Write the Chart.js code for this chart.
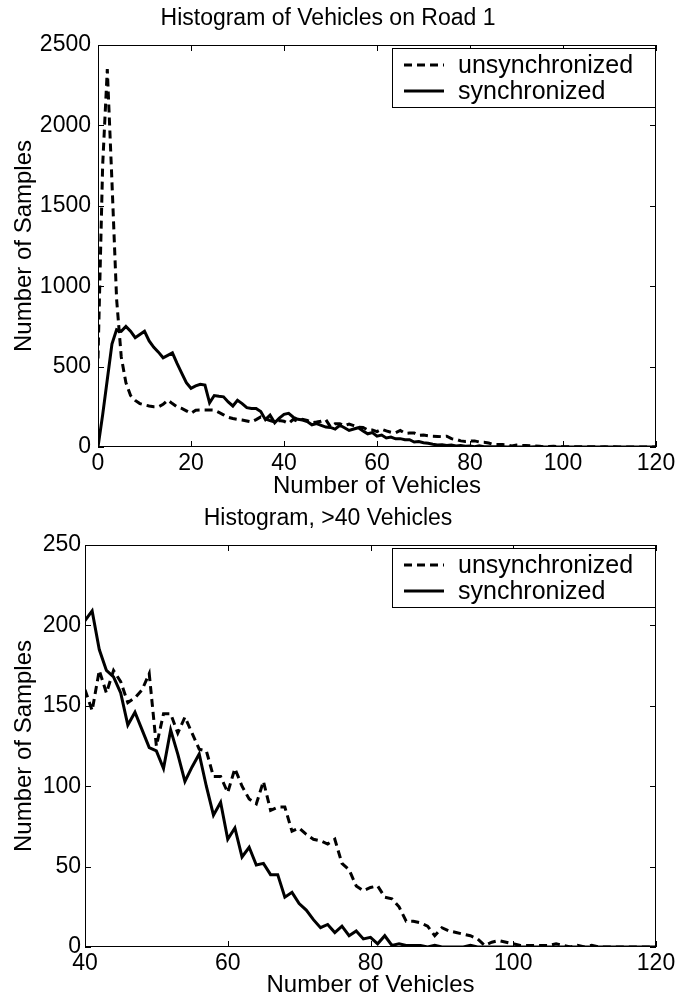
<!DOCTYPE html>
<html>
<head>
<meta charset="utf-8">
<script src="https://cdn.jsdelivr.net/npm/chart.js@4.4.1/dist/chart.umd.min.js"></script>
<style>
  html, body { margin: 0; padding: 0; background: #fff; }
  #page { position: relative; width: 682px; height: 1000px; }
  #page canvas { position: absolute; left: 0; }
  #roadChart { top: 0; }
  #tailChart { top: 500px; }
</style>
</head>
<body>
<div id="page">
  <canvas id="roadChart" width="682" height="501"></canvas>
  <canvas id="tailChart" width="682" height="500"></canvas>
</div>
<script>
(() => {
  // histogram bins: number of vehicles on the road (0..120)
  const vehicles = Array.from({ length: 121 }, (_, i) => i);

  const unsyncSamples = [
    550, 1750, 2350, 1650, 920, 560, 400, 320, 290, 270,
    262, 255, 250, 250, 265, 292, 270, 250, 240, 225,
    210, 229, 230, 230, 230, 229, 215, 200, 185, 177,
    172, 168, 162, 156, 170, 187, 175, 165, 156, 165,
    160, 147, 172, 158, 172, 165, 152, 155, 160, 170,
    125, 145, 145, 133, 143, 133, 123, 122, 106, 106,
    96, 111, 100, 92, 89, 103, 85, 87, 87, 72,
    74, 70, 67, 66, 64, 67, 52, 48, 38, 35,
    37, 38, 31, 30, 25, 16, 16, 15, 13, 7,
    12, 10, 9, 8, 7, 5, 1, 3, 4, 3,
    2, 1, 1, 1, 1, 1, 2, 1, 0, 1,
    0, 1, 0, 0, 0, 0, 0, 0, 0, 0,
    0,
  ];

  const syncSamples = [
    0, 200, 420, 640, 730, 720, 750, 720, 680, 700,
    720, 660, 620, 590, 555, 570, 585, 520, 460, 400,
    365, 380, 390, 385, 275, 320, 315, 312, 280, 255,
    290, 270, 245, 240, 240, 220, 170, 198, 150, 180,
    203, 209, 185, 172, 168, 158, 138, 146, 135, 124,
    122, 111, 135, 120, 103, 112, 120, 100, 82, 90,
    67, 74, 56, 62, 51, 52, 45, 45, 31, 34,
    27, 23, 17, 12, 14, 9, 13, 7, 10, 5,
    6, 2, 7, 1, 2, 1, 1, 1, 0, 1,
    0, 0, 0, 0, 1, 0, 0, 0, 0, 0,
    0, 0, 0, 0, 0, 0, 0, 0, 0, 0,
    0, 0, 0, 0, 0, 0, 0, 0, 0, 0,
    0,
  ];

  const seriesNames = ["unsynchronized", "synchronized"];

  const FONT = "'Liberation Sans', Arial, Helvetica, sans-serif";
  const tickFont = { family: FONT, size: 23, weight: "normal" };
  const labelFont = { family: FONT, size: 24, weight: "normal" };
  const LEGEND_SIZE = 25;

  const toPoints = (values, fromX) =>
    vehicles
      .map((v, i) => ({ x: v, y: values[i] }))
      .filter((p) => p.x >= fromX);

  // MATLAB-like box with inward ticks on every side
  const frameTicks = {
    id: "frameTicks",
    afterDatasetsDraw(chart) {
      const { ctx, chartArea: a, scales } = chart;
      const len = 6;
      ctx.save();
      ctx.strokeStyle = "#000";
      ctx.lineWidth = 1;
      ctx.strokeRect(a.left + 0.5, a.top + 0.5, a.width - 1, a.height - 1);
      ctx.beginPath();
      scales.x.ticks.forEach((t) => {
        const px = Math.round(scales.x.getPixelForValue(t.value)) + 0.5;
        ctx.moveTo(px, a.bottom);
        ctx.lineTo(px, a.bottom - len);
        ctx.moveTo(px, a.top);
        ctx.lineTo(px, a.top + len);
      });
      scales.y.ticks.forEach((t) => {
        const py = Math.round(scales.y.getPixelForValue(t.value)) + 0.5;
        ctx.moveTo(a.left, py);
        ctx.lineTo(a.left + len, py);
        ctx.moveTo(a.right, py);
        ctx.lineTo(a.right - len, py);
      });
      ctx.stroke();
      ctx.restore();
    },
  };

  // boxed legend in the upper right corner of the axes
  const boxLegend = {
    id: "boxLegend",
    afterDraw(chart) {
      const { ctx, chartArea: a } = chart;
      const boxW = 263;
      const boxH = 59;
      const left = a.right - boxW - 1;
      const top = a.top + 3;
      ctx.save();
      ctx.fillStyle = "#fff";
      ctx.fillRect(left, top, boxW, boxH);
      ctx.strokeStyle = "#000";
      ctx.lineWidth = 1;
      ctx.strokeRect(left + 0.5, top + 0.5, boxW, boxH);
      chart.data.datasets.forEach((ds, i) => {
        const rowY = top + 17 + i * 26;
        ctx.beginPath();
        ctx.lineWidth = ds.borderWidth;
        ctx.setLineDash(ds.borderDash || []);
        ctx.moveTo(left + 12, rowY);
        ctx.lineTo(left + 52, rowY);
        ctx.stroke();
        ctx.setLineDash([]);
        ctx.fillStyle = "#000";
        ctx.font = `${LEGEND_SIZE}px ${FONT}`;
        ctx.textBaseline = "middle";
        ctx.fillText(ds.label, left + 66, rowY + 1);
      });
      ctx.restore();
    },
  };

  const renderChart = (canvas, cfg) => {
    const datasets = [
      {
        label: seriesNames[0],
        data: toPoints(unsyncSamples, cfg.xMin),
        borderColor: "#000",
        borderWidth: 3,
        borderDash: [8, 5],
        pointRadius: 0,
        tension: 0,
      },
      {
        label: seriesNames[1],
        data: toPoints(syncSamples, cfg.xMin),
        borderColor: "#000",
        borderWidth: 3,
        pointRadius: 0,
        tension: 0,
      },
    ];

    return new Chart(canvas, {
      type: "line",
      data: { datasets },
      options: {
        responsive: false,
        animation: false,
        events: [],
        layout: { padding: { left: 0, right: 26, top: 0, bottom: 0 } },
        plugins: {
          legend: { display: false },
          tooltip: { enabled: false },
          title: {
            display: true,
            text: cfg.title,
            color: "#000",
            font: tickFont,
            padding: { top: 5, bottom: 12.4 },
          },
        },
        scales: {
          x: {
            type: "linear",
            min: cfg.xMin,
            max: 120,
            ticks: {
              stepSize: 20,
              color: "#000",
              font: tickFont,
              padding: 3,
              maxRotation: 0,
              autoSkip: false,
              callback: (value) => String(value),
            },
            grid: { display: false, drawTicks: false },
            border: { display: false },
            title: {
              display: true,
              text: "Number of Vehicles",
              color: "#000",
              font: labelFont,
              padding: { top: 0, bottom: 0 },
            },
            afterFit: (scale) => {
              scale.height = cfg.xHeight;
            },
          },
          y: {
            min: 0,
            max: cfg.yMax,
            ticks: {
              stepSize: cfg.yStep,
              color: "#000",
              font: tickFont,
              padding: cfg.yPad,
              callback: (value) => String(value),
            },
            grid: { display: false, drawTicks: false },
            border: { display: false },
            title: {
              display: true,
              text: "Number of Samples",
              color: "#000",
              font: labelFont,
              padding: { top: 10, bottom: 0 },
            },
            afterFit: (scale) => {
              scale.width = cfg.yWidth;
            },
          },
        },
      },
      plugins: [frameTicks, boxLegend],
    });
  };

  renderChart(document.getElementById("roadChart"), {
    title: "Histogram of Vehicles on Road 1",
    xMin: 0,
    yMax: 2500,
    yStep: 500,
    yWidth: 98,
    yPad: 7,
    xHeight: 54,
  });

  renderChart(document.getElementById("tailChart"), {
    title: "Histogram, >40 Vehicles",
    xMin: 40,
    yMax: 250,
    yStep: 50,
    yWidth: 85,
    yPad: 4,
    xHeight: 53,
  });
})();
</script>
</body>
</html>
